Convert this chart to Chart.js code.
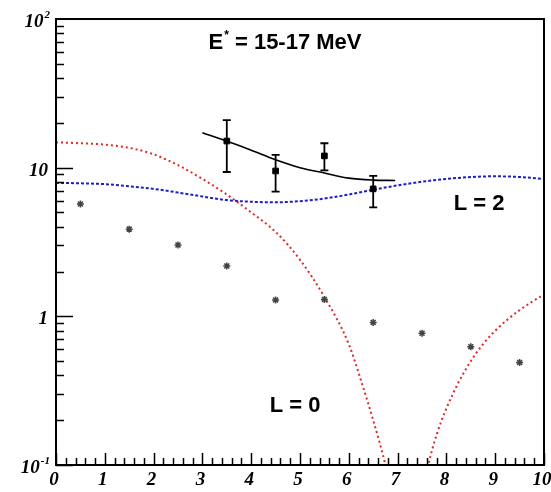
<!DOCTYPE html>
<html>
<head>
<meta charset="utf-8">
<script src="https://cdn.jsdelivr.net/npm/chart.js@4"></script>
<style>
  body { margin: 0; background: #fff; }
  canvas { display: block; }
</style>
</head>
<body>
<canvas id="chart" width="551" height="492"></canvas>
<script>
// measured points with error bars
const dataX = [3.5, 4.5, 5.5, 6.5];
const dataY = [15.1, 9.5, 12.0, 7.2];
const errLow = [9.35, 6.9, 9.6, 5.4];
const errHigh = [20.9, 12.2, 14.6, 8.8];

// fit curve through the data
const fitX = [3.0, 3.5, 4.0, 4.5, 5.0, 5.5, 6.0, 6.5, 6.95];
const fitY = [17.2, 15.1, 13.1, 11.3, 10.0, 9.2, 8.5, 8.25, 8.2];

// L = 0 curve
const l0X = [0, 0.5, 1, 1.5, 2, 2.5, 3, 3.5, 4, 4.5, 5, 5.5, 6, 6.25, 6.5, 6.75, 7, 7.2, 7.4, 7.63, 7.8, 8, 8.25, 8.5, 8.75, 9, 9.25, 9.5, 9.75, 10];
const l0Y = [14.8, 14.6, 14.3, 13.6, 12.3, 10.4, 8.4, 6.6, 5.0, 3.7, 2.4, 1.35, 0.65, 0.37, 0.2, 0.1, 0.04, 0.02, 0.04, 0.1, 0.16, 0.24, 0.36, 0.5, 0.65, 0.8, 0.95, 1.1, 1.25, 1.4];

// L = 2 curve
const l2X = [0, 0.5, 1, 1.5, 2, 2.5, 3, 3.5, 4, 4.5, 5, 5.5, 6, 6.5, 7, 7.5, 8, 8.5, 9, 9.5, 10];
const l2Y = [7.9, 7.85, 7.75, 7.5, 7.2, 6.8, 6.4, 6.05, 5.9, 5.85, 5.95, 6.2, 6.6, 7.1, 7.6, 8.05, 8.4, 8.65, 8.75, 8.65, 8.4];

// grey star markers
const starX = [0.5, 1.5, 2.5, 3.5, 4.5, 5.5, 6.5, 7.5, 8.5, 9.5];
const starY = [5.7, 3.86, 3.02, 2.18, 1.29, 1.30, 0.91, 0.77, 0.625, 0.49];

// tick labels
const xTickLabels = ['0', '1', '2', '3', '4', '5', '6', '7', '8', '9', '10'];
const yTickValues = [0.1, 1, 10, 100];
const yTickBase = ['10', '1', '10', '10'];
const yTickSup = ['-1', '', '', '2'];

const toPoints = (xs, ys) => xs.map((x, i) => ({ x: x, y: ys[i] }));

const serif = '"Liberation Serif", "Times New Roman", serif';
const sans = '"Liberation Sans", Arial, Helvetica, sans-serif';

// draws text with a superscript part, left aligned at x, vertically centred at y
function drawSup(ctx, base, sup, x, y, font, supFont, rest) {
    ctx.font = font;
    ctx.fillText(base, x, y);
    let w = ctx.measureText(base).width;
    ctx.font = supFont;
    ctx.fillText(sup, x + w + 1, y - 7);
    w += ctx.measureText(sup).width + 1;
    if (rest) {
        ctx.font = font;
        ctx.fillText(rest, x + w, y);
    }
}

function supWidth(ctx, base, sup, font, supFont, rest) {
    ctx.font = font;
    let w = ctx.measureText(base).width + (rest ? ctx.measureText(rest).width : 0);
    ctx.font = supFont;
    if (sup) w += ctx.measureText(sup).width + 1;
    return w;
}

const errorBars = {
    id: 'errorBars',
    afterDatasetsDraw(chart) {
        const { ctx, scales: { x, y } } = chart;
        ctx.save();
        ctx.strokeStyle = '#000';
        ctx.lineWidth = 1.8;
        dataX.forEach((v, i) => {
            const px = x.getPixelForValue(v);
            const top = y.getPixelForValue(errHigh[i]);
            const bot = y.getPixelForValue(errLow[i]);
            ctx.beginPath();
            ctx.moveTo(px, top); ctx.lineTo(px, bot);
            ctx.moveTo(px - 4, top); ctx.lineTo(px + 4, top);
            ctx.moveTo(px - 4, bot); ctx.lineTo(px + 4, bot);
            ctx.stroke();
        });
        ctx.restore();
    }
};

const frame = {
    id: 'frame',
    afterDraw(chart) {
        const { ctx, chartArea: a, scales: { x, y } } = chart;
        ctx.save();
        ctx.strokeStyle = '#000';
        ctx.lineWidth = 2;
        ctx.strokeRect(a.left, a.top, a.right - a.left, a.bottom - a.top);

        // x ticks, pointing inward
        ctx.lineWidth = 1.5;
        ctx.beginPath();
        for (let i = 0; i <= 50; i++) {
            const px = Math.round(x.getPixelForValue(i / 5)) + 0.5;
            const len = i % 5 === 0 ? 12 : 7;
            ctx.moveTo(px, a.bottom);
            ctx.lineTo(px, a.bottom - len);
        }
        // y ticks
        for (let d = -1; d <= 1; d++) {
            for (let k = 1; k <= 9; k++) {
                const py = Math.round(y.getPixelForValue(k * Math.pow(10, d))) + 0.5;
                const len = k === 1 ? 17 : 8;
                ctx.moveTo(a.left, py);
                ctx.lineTo(a.left + len, py);
            }
        }
        ctx.stroke();

        // tick labels
        ctx.fillStyle = '#000';
        const font = 'bold italic 19px ' + serif;
        const supFont = 'bold italic 11px ' + serif;
        ctx.textBaseline = 'middle';
        ctx.textAlign = 'center';
        ctx.font = font;
        xTickLabels.forEach((t, i) => {
            ctx.fillText(t, x.getPixelForValue(i) - 2, a.bottom + 15);
        });
        ctx.textAlign = 'left';
        yTickValues.forEach((v, i) => {
            const w = supWidth(ctx, yTickBase[i], yTickSup[i], font, supFont);
            const right = yTickSup[i] ? 50 : 48;
            drawSup(ctx, yTickBase[i], yTickSup[i], right - w, y.getPixelForValue(v) + 3, font, supFont);
        });

        // annotations
        const bFont = 'bold 22px ' + sans;
        const bSup = 'bold 12px ' + sans;
        const tw = supWidth(ctx, 'E', '*', bFont, bSup, ' = 15-17 MeV');
        drawSup(ctx, 'E', '*', 285 - tw / 2, 43, bFont, bSup, ' = 15-17 MeV');
        ctx.font = 'bold 22px ' + sans;
        ctx.textAlign = 'center';
        ctx.fillText('L = 2', 479, 204);
        ctx.fillText('L = 0', 295, 406);
        ctx.restore();
    }
};

new Chart(document.getElementById('chart'), {
    type: 'scatter',
    data: {
        datasets: [
            {
                label: 'data',
                data: toPoints(dataX, dataY),
                pointStyle: 'rect',
                pointRadius: 4,
                backgroundColor: '#000',
                borderColor: '#000',
                borderWidth: 1
            },
            {
                label: 'stars',
                data: toPoints(starX, starY),
                pointStyle: 'star',
                pointRadius: 3.5,
                borderColor: '#444',
                backgroundColor: '#444',
                borderWidth: 1.5
            },
            {
                label: 'fit',
                data: toPoints(fitX, fitY),
                showLine: true,
                pointRadius: 0,
                borderColor: '#000',
                borderWidth: 1.6,
                cubicInterpolationMode: 'monotone'
            },
            {
                label: 'L = 2',
                data: toPoints(l2X, l2Y),
                showLine: true,
                pointRadius: 0,
                borderColor: 'rgb(30, 30, 200)',
                borderWidth: 2,
                borderDash: [3, 2],
                cubicInterpolationMode: 'monotone'
            },
            {
                label: 'L = 0',
                data: toPoints(l0X, l0Y),
                showLine: true,
                pointRadius: 0,
                borderColor: 'rgb(225, 40, 40)',
                borderWidth: 2,
                borderDash: [2, 3],
                cubicInterpolationMode: 'monotone'
            }
        ]
    },
    options: {
        responsive: false,
        devicePixelRatio: 1,
        animation: false,
        layout: { padding: { left: 56, right: 7, top: 19, bottom: 27 } },
        plugins: {
            legend: { display: false },
            tooltip: { enabled: false }
        },
        scales: {
            x: { type: 'linear', min: 0, max: 10, display: false },
            y: { type: 'logarithmic', min: 0.1, max: 100, display: false }
        }
    },
    plugins: [errorBars, frame]
});
</script>
</body>
</html>
